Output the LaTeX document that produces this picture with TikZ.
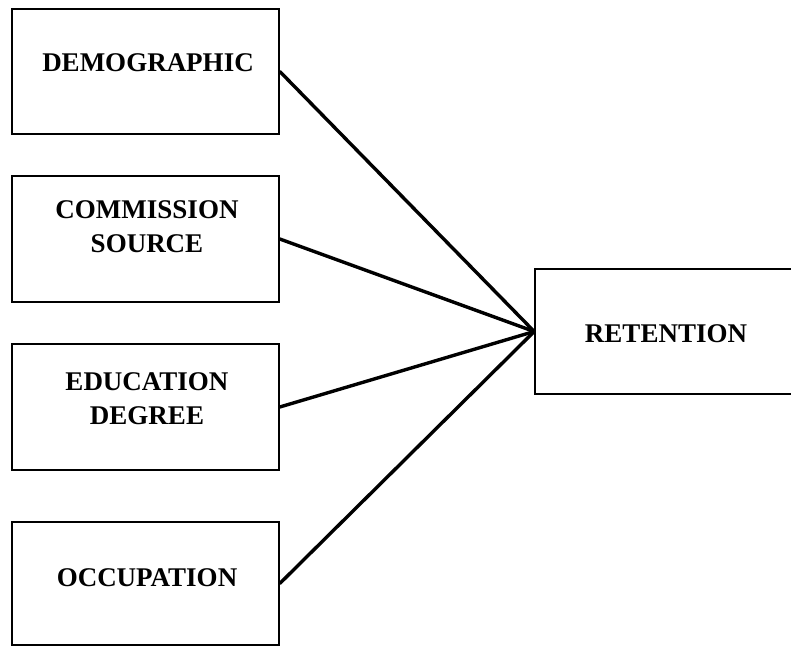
\documentclass[tikz,border=0pt]{standalone}
\usepackage{fontspec}
\setmainfont{Liberation Serif}
\begin{document}
\begin{tikzpicture}[x=1pt,y=1pt,
  box/.style={draw=black, line width=1.6pt, inner sep=0pt, minimum width=267pt, minimum height=126pt},
  lbl/.style={inner sep=0pt, align=center, font=\fontsize{27}{33.4}\selectfont\bfseries},
  conn/.style={line width=3.4pt, line cap=round}]
\useasboundingbox (0,0) rectangle (791,647);
\clip (0,0) rectangle (791,647);
% boxes
\node[box, minimum height=125pt] (dem) at (145.5,575.5) {};
\node[box] (com) at (145.5,408) {};
\node[box] (edu) at (145.5,240) {};
\node[box, minimum height=123pt] (occ) at (145.5,63.5) {};
\node[box, minimum width=260pt, minimum height=125pt] (ret) at (665,315.5) {};
% labels
\node[lbl] (demt) at (148,584.5) {DEMOGRAPHIC};
\node[lbl] (comt) at (147,420.3) {COMMISSION\\SOURCE};
\node[lbl] (edut) at (147,248.2) {EDUCATION\\DEGREE};
\node[lbl] (occt) at (147,69.5) {OCCUPATION};
\node[lbl] (rett) at (666,313.2) {RETENTION};
% connectors
\draw[conn] (dem.east) -- (ret.west);
\draw[conn] (com.east) -- (ret.west);
\draw[conn] (edu.east) -- (ret.west);
\draw[conn] (occ.east) -- (ret.west);
\end{tikzpicture}
\end{document}
